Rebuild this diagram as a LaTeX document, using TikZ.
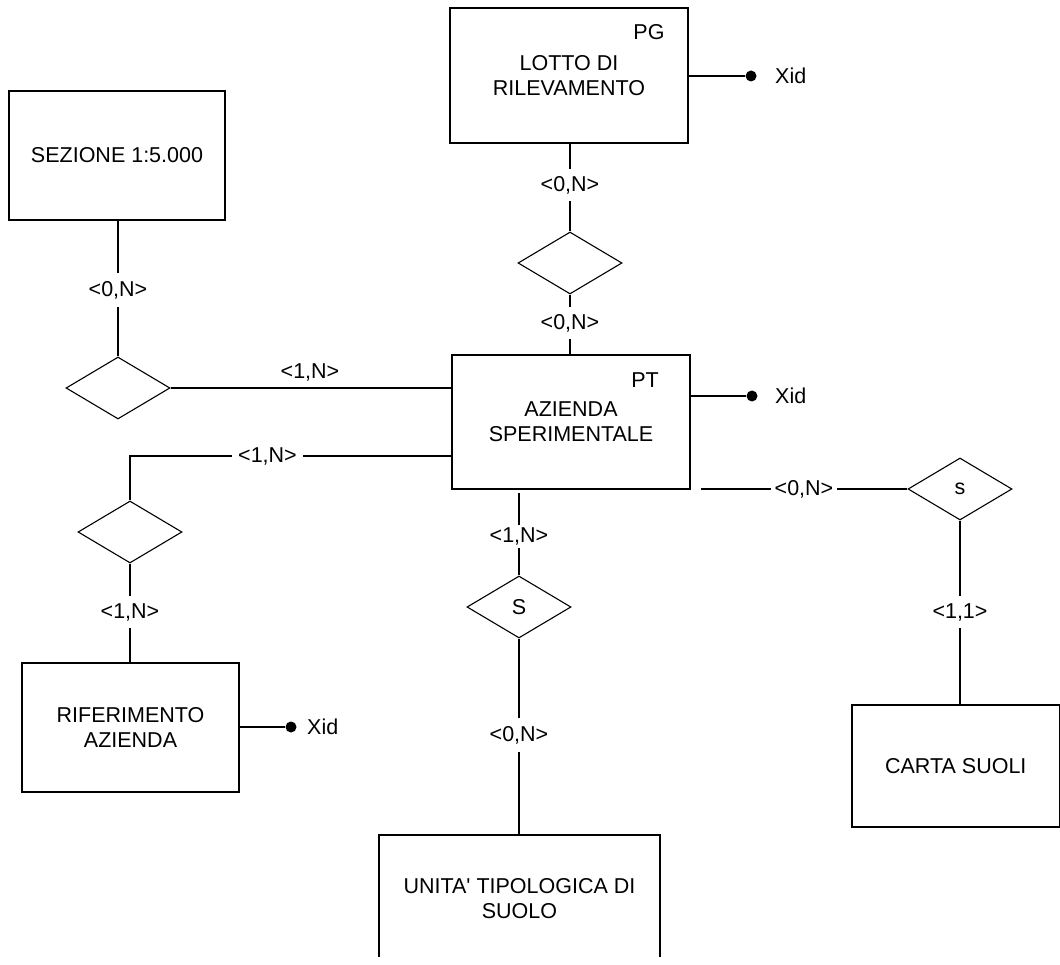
\documentclass[tikz,border=0pt]{standalone}
\usepackage{fontspec}
\setmainfont{Liberation Sans}
\usetikzlibrary{shapes.geometric}
\begin{document}
\begin{tikzpicture}[x=1pt,y=-1pt,
  every node/.style={font=\fontsize{21.5}{25}\selectfont},
  entity/.style={draw, line width=1.1pt, rectangle, align=center, inner sep=0pt},
  rel/.style={draw, diamond, minimum width=104pt, minimum height=62pt, inner sep=0pt, line width=1.1pt},
  card/.style={inner xsep=5pt, inner ysep=0pt, minimum height=32pt},
  conn/.style={line width=1.1pt},
  keydot/.style={circle, fill, inner sep=0pt, minimum size=11pt},
  tag/.style={inner sep=0pt}
]
\useasboundingbox (0,0) rectangle (1060,965);
\begin{scope}
\clip (0,0) rectangle (1060,956);

% entities
\node[entity, minimum width=238pt, minimum height=135pt] (lotto) at (569,75.5) {LOTTO DI\\RILEVAMENTO};
\node[tag] (pg) at (649,32) {PG};
\node[entity, minimum width=216pt, minimum height=129pt] (sez) at (117,155.5) {SEZIONE 1:5.000};
\node[entity, minimum width=238pt, minimum height=134pt] (az) at (571,422) {AZIENDA\\SPERIMENTALE};
\node[tag] (pt) at (645,380) {PT};
\node[entity, minimum width=217pt, minimum height=129pt] (rif) at (130.5,727.5) {RIFERIMENTO\\AZIENDA};
\node[entity, minimum width=207.5pt, minimum height=122pt] (carta) at (955.75,766) {CARTA SUOLI};
\node[entity, minimum width=281pt, minimum height=127pt] (unita) at (519.5,898.5) {UNITA\textquotesingle{} TIPOLOGICA DI\\SUOLO};

% relationships
\node[rel] (d1) at (570,263) {};
\node[rel] (d2) at (118,388) {};
\node[rel] (d3) at (130,532) {};
\node[rel] (dS) at (519,607) {S};
\node[rel] (ds) at (960,489) {s};

% cardinalities
\node[card] (c1) at (570,185) {<0,N>};
\node[card] (c2) at (570,323) {<0,N>};
\node[card, minimum height=34pt] (c3) at (118,290) {<0,N>};
\node[tag] (c4) at (310,372) {<1,N>};
\node[card, inner xsep=6pt] (c5) at (267.5,456) {<1,N>};
\node[card] (c6) at (130,612) {<1,N>};
\node[card, minimum height=23pt] (c7) at (519,536.5) {<1,N>};
\node[card, minimum height=34pt] (c8) at (519,735) {<0,N>};
\node[card, inner xsep=3.5pt] (c9) at (804,489) {<0,N>};
\node[card] (c10) at (960,612) {<1,1>};

% connectors
\draw[conn] (lotto.south -| c1) -- (c1) -- (d1.north);
\draw[conn] (d1.south) -- (c2) -- (az.north -| d1);
\draw[conn] (sez.south -| d2) -- (c3) -- (d2.north);
\draw[conn] (d2.east) -- (az.west |- d2.east);
\draw[conn] (az.west |- c5) -- (c5) -- (d3.north |- c5) -- (d3.north);
\draw[conn] (d3.south) -- (c6) -- (rif.north -| d3);
\coordinate (azb) at (519,493);
\draw[conn] (azb) -- (c7) -- (dS.north);
\draw[conn] (dS.south) -- (c8) -- (unita.north -| dS);
\coordinate (azr) at (701,489);
\draw[conn] (azr) -- (c9) -- (ds.west);
\draw[conn] (ds.south) -- (c10) -- (carta.north -| ds);

% identifiers
\node[keydot] (k1) at (751,76) {};
\node[tag, anchor=west] (x1) at (775,76) {Xid};
\draw[conn] (lotto.east |- k1) -- (k1);
\node[keydot] (k2) at (752,396) {};
\node[tag, anchor=west] (x2) at (775,396) {Xid};
\draw[conn] (az.east |- k2) -- (k2);
\node[keydot] (k3) at (291,727) {};
\node[tag, anchor=west] (x3) at (307,727) {Xid};
\draw[conn] (rif.east |- k3) -- (k3);
\end{scope}
\end{tikzpicture}
\end{document}
